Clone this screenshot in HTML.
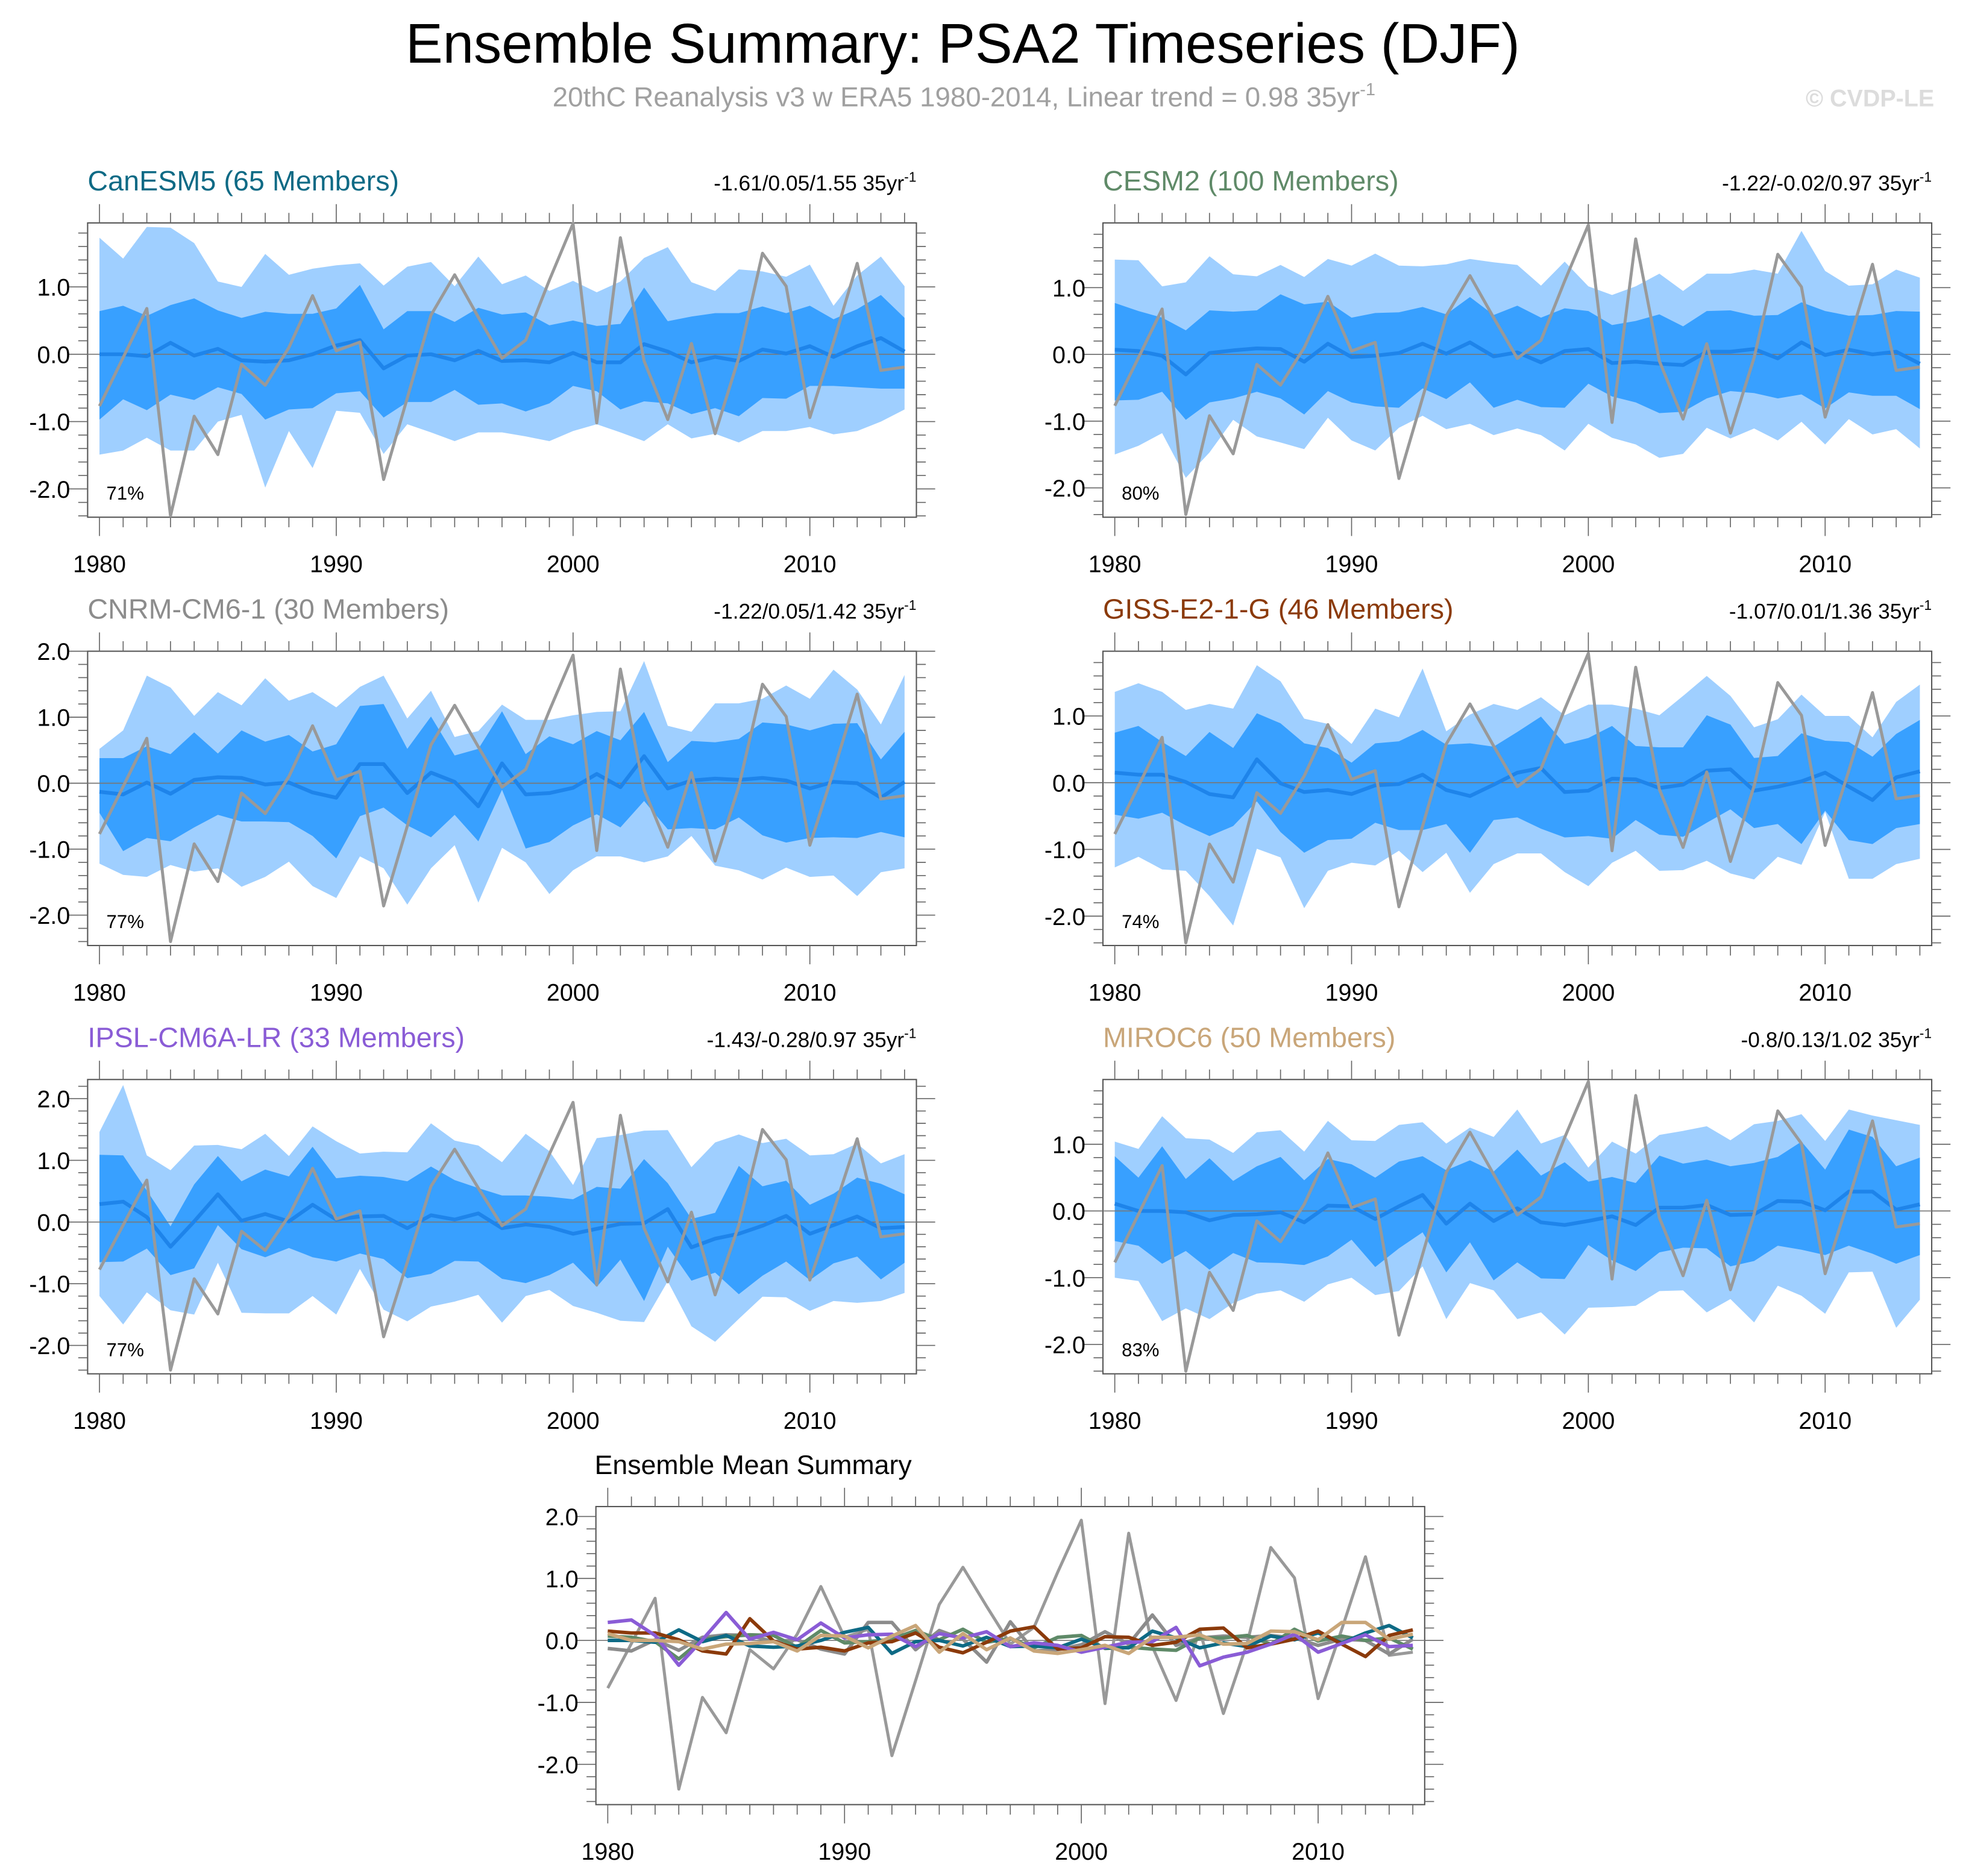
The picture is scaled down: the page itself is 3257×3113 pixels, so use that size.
<!DOCTYPE html>
<html><head><meta charset="utf-8">
<style>
html,body{margin:0;padding:0;background:#fff;}
svg{display:block;font-family:"Liberation Sans",sans-serif;}
</style></head>
<body>
<svg id="chart" width="3257" height="3113" viewBox="0 0 1568 1498" preserveAspectRatio="none" xmlns="http://www.w3.org/2000/svg">
<rect x="0" y="0" width="1568" height="1498" fill="#fff"/>
<text x="769" y="50" font-size="44.5" text-anchor="middle" fill="#000">Ensemble Summary: PSA2 Timeseries (DJF)</text>
<text x="770" y="85" font-size="22" text-anchor="middle" fill="#a0a0a0">20thC Reanalysis v3 w ERA5 1980-2014, Linear trend = 0.98 35yr<tspan font-size="14" dy="-9">-1</tspan></text>
<text x="1545" y="85" font-size="19" font-weight="bold" text-anchor="end" fill="#dcdcdc">© CVDP-LE</text>
<g id="panels"></g>
</svg>
<script>
const years = [];
for (let y = 1980; y <= 2014; y++) years.push(y);

const obs = [-0.77,-0.05,0.68,-2.40,-0.92,-1.49,-0.15,-0.46,0.10,0.87,0.05,0.18,-1.86,-0.65,0.58,1.18,0.55,-0.06,0.21,1.10,1.94,-1.02,1.73,-0.10,-0.97,0.16,-1.18,-0.05,1.50,1.01,-0.94,0.18,1.35,-0.24,-0.19];

// CanESM5
const canMean = [0,0,-0.03,0.17,-0.02,0.08,-0.09,-0.11,-0.09,0.0,0.13,0.21,-0.21,-0.02,0.0,-0.09,0.05,-0.1,-0.09,-0.12,0.02,-0.12,-0.12,0.15,0.04,-0.12,-0.04,-0.1,0.07,0.01,0.12,-0.04,0.12,0.24,0.04];
const canDarkHi = [0.64,0.72,0.57,0.73,0.83,0.65,0.54,0.63,0.6,0.6,0.68,1.03,0.37,0.64,0.64,0.48,0.69,0.59,0.62,0.43,0.5,0.42,0.45,0.99,0.49,0.56,0.61,0.61,0.71,0.61,0.72,0.52,0.67,0.88,0.54];
const canDarkLo = [-0.97,-0.67,-0.83,-0.6,-0.68,-0.49,-0.59,-0.97,-0.82,-0.8,-0.58,-0.55,-0.94,-0.71,-0.71,-0.53,-0.75,-0.73,-0.85,-0.73,-0.47,-0.55,-0.82,-0.7,-0.73,-0.89,-0.8,-0.92,-0.65,-0.66,-0.47,-0.47,-0.49,-0.51,-0.51];
const canLightHi = [1.73,1.42,1.89,1.88,1.65,1.08,1.0,1.49,1.18,1.27,1.32,1.35,1.02,1.3,1.37,1.01,1.45,1.04,1.17,0.94,1.09,0.92,1.08,1.43,1.59,1.07,0.94,1.26,1.23,1.15,1.33,0.72,1.17,1.45,1.01];
const canLightLo = [-1.49,-1.43,-1.24,-1.43,-1.43,-1.0,-0.9,-1.98,-1.14,-1.69,-0.84,-0.87,-1.48,-1.04,-1.16,-1.29,-1.16,-1.16,-1.22,-1.29,-1.14,-1.04,-1.16,-1.29,-1.04,-1.25,-1.18,-1.31,-1.14,-1.14,-1.08,-1.19,-1.14,-1.0,-0.82];

// CESM2
const cesmMean = [0.07,0.05,-0.02,-0.3,0.02,0.06,0.09,0.08,-0.11,0.16,-0.04,-0.02,0.02,0.16,0.01,0.18,-0.03,0.03,-0.12,0.05,0.08,-0.13,-0.11,-0.14,-0.16,0.04,0.04,0.08,-0.06,0.18,-0.01,0.07,0.0,0.04,-0.14];
const cesmDarkHi = [0.77,0.65,0.55,0.36,0.66,0.64,0.66,0.9,0.75,0.79,0.55,0.62,0.63,0.71,0.6,0.86,0.59,0.73,0.55,0.69,0.65,0.44,0.5,0.6,0.42,0.65,0.66,0.58,0.59,0.78,0.65,0.58,0.59,0.65,0.64];
const cesmDarkLo = [-0.69,-0.68,-0.56,-0.98,-0.72,-0.66,-0.56,-0.66,-0.9,-0.55,-0.72,-0.78,-0.8,-0.51,-0.67,-0.42,-0.8,-0.68,-0.79,-0.8,-0.44,-0.63,-0.72,-0.88,-0.86,-0.66,-0.55,-0.58,-0.66,-0.6,-0.81,-0.57,-0.62,-0.62,-0.82];
const cesmLightHi = [1.42,1.41,1.02,1.08,1.47,1.2,1.17,1.34,1.16,1.43,1.33,1.51,1.33,1.32,1.35,1.43,1.38,1.34,1.03,1.39,1.02,0.89,1.02,1.21,0.95,1.21,1.21,1.27,1.21,1.85,1.25,1.03,1.05,1.27,1.15];
const cesmLightLo = [-1.5,-1.37,-1.18,-1.85,-1.47,-0.98,-1.23,-1.32,-1.42,-0.95,-1.29,-1.44,-1.1,-0.92,-1.12,-1.04,-1.21,-1.11,-1.21,-1.44,-1.04,-1.25,-1.35,-1.55,-1.49,-1.1,-1.26,-1.11,-1.29,-1.01,-1.35,-0.97,-1.2,-1.12,-1.41];

// CNRM-CM6-1
const cnrmMean = [-0.13,-0.17,0.01,-0.16,0.05,0.09,0.08,-0.02,0.01,-0.14,-0.22,0.29,0.29,-0.15,0.16,0.02,-0.35,0.30,-0.17,-0.15,-0.07,0.14,-0.06,0.41,-0.08,0.04,0.07,0.05,0.08,0.04,-0.08,0.02,0.0,-0.22,0.02];
const cnrmDarkHi = [0.38,0.38,0.56,0.44,0.77,0.45,0.80,0.63,0.73,0.48,0.59,1.17,1.20,0.52,1.01,0.42,0.52,1.09,0.44,0.71,0.59,0.79,0.65,1.08,0.32,0.64,0.62,0.67,0.92,0.89,0.80,0.90,0.91,0.36,0.78];
const cnrmDarkLo = [-0.45,-1.03,-0.83,-0.88,-0.67,-0.48,-0.58,-0.58,-0.59,-0.80,-1.14,-0.50,-0.37,-0.64,-0.82,-0.48,-0.88,-0.10,-0.99,-0.89,-0.64,-0.47,-0.67,-0.27,-0.70,-0.68,-0.70,-0.52,-0.79,-0.90,-0.83,-0.82,-0.83,-0.74,-0.82];
const cnrmLightHi = [0.52,0.80,1.63,1.45,1.02,1.38,1.18,1.59,1.25,1.38,1.15,1.46,1.63,0.98,1.40,0.70,0.79,1.19,0.96,0.96,1.03,1.08,1.09,1.85,0.87,0.78,1.21,1.21,1.28,1.48,1.28,1.72,1.42,0.89,1.64];
const cnrmLightLo = [-1.22,-1.39,-1.42,-1.24,-1.34,-1.29,-1.57,-1.42,-1.19,-1.56,-1.74,-1.11,-1.29,-1.84,-1.29,-0.94,-1.81,-0.98,-1.20,-1.68,-1.32,-1.11,-1.11,-1.20,-1.11,-0.80,-1.25,-1.32,-1.46,-1.28,-1.42,-1.40,-1.71,-1.35,-1.29];

// GISS-E2-1-G
const gissMean = [0.15,0.12,0.12,0.01,-0.17,-0.22,0.35,-0.01,-0.14,-0.11,-0.17,-0.04,-0.02,0.12,-0.11,-0.2,-0.03,0.15,0.22,-0.14,-0.12,0.06,0.05,-0.08,-0.03,0.18,0.2,-0.12,-0.06,0.02,0.15,-0.06,-0.26,0.08,0.17];
const gissDarkHi = [0.75,0.85,0.61,0.40,0.76,0.52,1.04,0.89,0.59,0.52,0.30,0.59,0.62,0.79,0.57,0.59,0.54,0.76,0.99,0.58,0.67,0.85,0.55,0.53,0.53,1.01,0.87,0.37,0.40,0.74,0.63,0.61,0.39,0.73,0.94];
const gissDarkLo = [-0.48,-0.54,-0.45,-0.64,-0.80,-0.65,-0.28,-0.74,-1.05,-0.86,-0.84,-0.60,-0.71,-0.71,-0.62,-1.05,-0.56,-0.52,-0.69,-0.82,-0.80,-0.84,-0.56,-0.78,-0.81,-0.60,-0.40,-0.68,-0.62,-0.92,-0.42,-0.86,-0.92,-0.68,-0.62];
const gissLightHi = [1.36,1.49,1.36,1.09,1.18,1.11,1.76,1.52,0.96,0.88,0.58,1.11,0.98,1.71,0.77,1.02,1.18,1.09,1.28,1.01,1.17,1.17,1.11,1.01,1.30,1.60,1.30,0.83,0.95,1.32,1.00,1.00,0.68,1.21,1.47];
const gissLightLo = [-1.27,-1.11,-1.30,-1.32,-1.70,-2.14,-0.99,-1.12,-1.88,-1.32,-1.20,-1.24,-1.02,-1.34,-1.05,-1.65,-1.22,-1.06,-1.06,-1.34,-1.55,-1.20,-1.02,-1.32,-1.31,-1.17,-1.36,-1.45,-1.11,-1.23,-0.44,-1.44,-1.44,-1.22,-1.14];

// IPSL-CM6A-LR
const ipslMean = [0.29,0.33,0.08,-0.40,0.01,0.45,0.02,0.13,0.01,0.28,0.04,0.09,0.10,-0.10,0.11,0.04,0.14,-0.10,-0.04,-0.08,-0.19,-0.11,-0.03,-0.02,0.21,-0.41,-0.27,-0.19,-0.06,0.10,-0.19,-0.05,0.09,-0.10,-0.08];
const ipslDarkHi = [1.09,1.08,0.51,-0.07,0.61,1.07,0.66,0.85,0.74,1.22,0.71,0.75,0.73,0.66,0.90,0.68,0.55,0.43,0.43,0.41,0.37,0.57,0.54,1.02,0.63,0.05,0.15,0.91,0.58,0.67,0.28,0.46,0.72,0.62,0.45];
const ipslDarkLo = [-0.65,-0.64,-0.43,-0.86,-0.75,-0.05,-0.44,-0.57,-0.42,-0.57,-0.64,-0.51,-0.60,-0.91,-0.84,-0.63,-0.64,-0.92,-0.99,-0.86,-0.66,-1.05,-0.61,-1.28,-0.40,-0.95,-0.82,-1.17,-0.87,-0.64,-0.94,-0.67,-0.56,-0.93,-0.66];
const ipslLightHi = [1.46,2.22,1.08,0.84,1.24,1.25,1.18,1.43,1.07,1.55,1.31,1.11,1.14,1.13,1.60,1.32,1.24,0.97,1.43,1.15,0.60,1.36,1.41,1.48,1.49,0.89,1.29,1.42,1.28,1.35,1.08,1.10,1.27,0.95,1.10];
const ipslLightLo = [-1.20,-1.66,-1.14,-1.43,-1.50,-0.66,-1.47,-1.48,-1.48,-1.20,-1.50,-0.76,-1.42,-1.61,-1.37,-1.29,-1.18,-1.63,-1.20,-1.10,-1.36,-1.47,-1.60,-1.62,-0.96,-1.69,-1.94,-1.57,-1.21,-1.22,-1.44,-1.28,-1.31,-1.28,-1.15];

// MIROC6
const mirocMean = [0.11,0,0,-0.02,-0.14,-0.06,-0.05,-0.02,-0.17,0.08,0.07,-0.12,0.07,0.24,-0.19,0.11,-0.15,0.04,-0.17,-0.21,-0.15,-0.08,-0.21,0.05,0.05,0.09,-0.06,-0.05,0.15,0.14,0.01,0.29,0.29,0.02,0.10];
const mirocDarkHi = [0.82,0.50,0.97,0.48,0.79,0.45,0.67,0.81,0.46,0.78,0.70,0.50,0.74,0.82,0.61,0.76,0.59,0.92,0.53,0.73,0.44,0.51,0.42,0.83,0.71,0.77,0.67,0.72,0.81,1.04,0.62,1.22,1.11,0.67,0.80];
const mirocDarkLo = [-0.45,-0.52,-0.79,-0.60,-0.88,-0.63,-0.77,-0.78,-0.81,-0.68,-0.43,-0.84,-0.56,-0.32,-0.92,-0.47,-1.04,-0.77,-1.01,-1.02,-0.51,-0.74,-0.90,-0.62,-0.55,-0.56,-0.83,-0.75,-0.52,-0.58,-0.66,-0.52,-0.64,-0.79,-0.66];
const mirocLightHi = [1.04,0.93,1.42,1.09,1.07,0.87,1.18,1.21,0.89,1.35,1.06,1.05,1.29,1.33,1.01,1.25,1.11,1.52,1.01,1.14,0.65,1.04,0.86,1.14,1.20,1.27,1.06,1.30,1.35,1.45,1.05,1.52,1.43,1.36,1.29];
const mirocLightLo = [-1.00,-1.05,-1.65,-1.46,-1.62,-1.38,-1.24,-1.19,-1.36,-1.10,-1.00,-1.26,-1.20,-0.83,-1.62,-1.08,-1.19,-1.62,-1.52,-1.85,-1.45,-1.44,-1.42,-1.20,-1.19,-1.52,-1.32,-1.67,-1.12,-1.27,-1.54,-0.92,-0.91,-1.75,-1.33];

const modelNames = ["CanESM5 (65 Members)","CESM2 (100 Members)","CNRM-CM6-1 (30 Members)","GISS-E2-1-G (46 Members)","IPSL-CM6A-LR (33 Members)","MIROC6 (50 Members)"];
const statLabels = ["-1.61/0.05/1.55 35yr","-1.22/-0.02/0.97 35yr","-1.22/0.05/1.42 35yr","-1.07/0.01/1.36 35yr","-1.43/-0.28/0.97 35yr","-0.8/0.13/1.02 35yr"];
const pctLabels = ["71%","80%","77%","74%","77%","83%"];
const titleColors = ["#0e6a85","#5f8a68","#8c8c8c","#8b3a0a","#8a5cd6","#c9a679"];
const yRanges = [[-2.42,1.95],[-2.44,1.97],[-2.46,2.0],[-2.44,1.97],[-2.46,2.31],[-2.44,1.97]];
const meanSets = [canMean,cesmMean,cnrmMean,gissMean,ipslMean,mirocMean];
const bandSets = [
 [canLightLo,canLightHi,canDarkLo,canDarkHi],
 [cesmLightLo,cesmLightHi,cesmDarkLo,cesmDarkHi],
 [cnrmLightLo,cnrmLightHi,cnrmDarkLo,cnrmDarkHi],
 [gissLightLo,gissLightHi,gissDarkLo,gissDarkHi],
 [ipslLightLo,ipslLightHi,ipslDarkLo,ipslDarkHi],
 [mirocLightLo,mirocLightHi,mirocDarkLo,mirocDarkHi]];
const xTickLabels = ["1980","1990","2000","2010"];

const NS = "http://www.w3.org/2000/svg";
const root = document.getElementById("panels");
function mk(tag, attrs, parent) {
  const e = document.createElementNS(NS, tag);
  for (const k in attrs) e.setAttribute(k, attrs[k]);
  (parent || root).appendChild(e);
  return e;
}

function drawAxes(g, L, T, W, H, xs, ys, ymin, ymax) {
  const box = mk("rect", {x:L, y:T, width:W, height:H, fill:"none", stroke:"#555", "stroke-width":1}, g);
  
  
  for (let yr = 1980; yr <= 2014; yr++) {
    const major = yr % 10 === 0;
    const len = major ? 15 : 8;
    const x = xs(yr);
    mk("line", {x1:x, x2:x, y1:T, y2:T-len, stroke:"#666", "stroke-width":0.8}, g);
    mk("line", {x1:x, x2:x, y1:T+H, y2:T+H+len, stroke:"#666", "stroke-width":0.8}, g);
  }
  xTickLabels.forEach(lbl => {
    const t = mk("text", {x:xs(+lbl), y:T+H+44, "font-size":19, "text-anchor":"middle", fill:"#000"}, g);
    t.textContent = lbl;
    
    
  });
  const start = Math.ceil(ymin / 0.2 - 1e-6), end = Math.floor(ymax / 0.2 + 1e-6);
  for (let k = start; k <= end; k++) {
    const v = k * 0.2;
    const major = k % 5 === 0;
    const len = major ? 15 : 7.5;
    const y = ys(v);
    mk("line", {x1:L, x2:L-len, y1:y, y2:y, stroke:"#666", "stroke-width":0.8}, g);
    mk("line", {x1:L+W, x2:L+W+len, y1:y, y2:y, stroke:"#666", "stroke-width":0.8}, g);
    if (major) {
      const iv = Math.round(v);
      const t = mk("text", {x:L-14, y:y+7, "font-size":19, "text-anchor":"end", fill:"#000"}, g);
      t.textContent = iv.toFixed(1);
      
      
    }
  }
  mk("line", {x1:L, x2:L+W, y1:ys(0), y2:ys(0), stroke:"#777", "stroke-width":0.8}, g);
}

function linePath(vals, xs, ys) {
  return vals.map((v, i) => (i ? "L" : "M") + xs(years[i]).toFixed(2) + " " + ys(v).toFixed(2)).join(" ");
}
function bandPath(lo, hi, xs, ys) {
  let d = hi.map((v, i) => (i ? "L" : "M") + xs(years[i]).toFixed(2) + " " + ys(v).toFixed(2)).join(" ");
  for (let i = lo.length - 1; i >= 0; i--) d += " L" + xs(years[i]).toFixed(2) + " " + ys(lo[i]).toFixed(2);
  return d + " Z";
}

const colX = [70, 881], rowT = [178, 520, 862], W = 662, H = 235;
for (let p = 0; p < 6; p++) {
  const L = colX[p % 2], T = rowT[Math.floor(p / 2)];
  const [ymin, ymax] = yRanges[p];
  const xs = yr => L + (yr - 1979.5) / 35 * W;
  const ys = v => T + (ymax - v) / (ymax - ymin) * H;
  const g = mk("g", {});
  
  
  const [llo, lhi, dlo, dhi] = bandSets[p];
  const b1 = mk("path", {d:bandPath(llo, lhi, xs, ys), fill:"#9fcfff"}, g);
  
  
  const b2 = mk("path", {d:bandPath(dlo, dhi, xs, ys), fill:"#38a0ff"}, g);
  
  
  drawAxes(g, L, T, W, H, xs, ys, ymin, ymax);
  const m = mk("path", {d:linePath(meanSets[p], xs, ys), fill:"none", stroke:"#1e84ea", "stroke-width":3, "stroke-linejoin":"round"}, g);
  
  
  const o = mk("path", {d:linePath(obs, xs, ys), fill:"none", stroke:"#999", "stroke-width":2.4, "stroke-linejoin":"round"}, g);
  
  
  const tt = mk("text", {x:L, y:T-26, "font-size":22.5, fill:titleColors[p]}, g);
  tt.textContent = modelNames[p];
  
  
  const st = mk("text", {x:L+W, y:T-26, "font-size":17, "text-anchor":"end", fill:"#000"}, g);
  
  
  st.appendChild(document.createTextNode(statLabels[p]));
  const sup = mk("tspan", {"font-size":11, dy:-7}, st);
  sup.textContent = "-1";
  const pc = mk("text", {x:L+15, y:T+H-14, "font-size":15, fill:"#000"}, g);
  pc.textContent = pctLabels[p];
  
  
}

{
  const L = 476, T = 1203, W2 = 662, H2 = 238, ymin = -2.65, ymax = 2.16;
  const xs = yr => L + (yr - 1979.5) / 35 * W2;
  const ys = v => T + (ymax - v) / (ymax - ymin) * H2;
  const g = mk("g", {});
  
  
  drawAxes(g, L, T, W2, H2, xs, ys, ymin, ymax);
  const o = mk("path", {d:linePath(obs, xs, ys), fill:"none", stroke:"#999", "stroke-width":2.4, "stroke-linejoin":"round"}, g);
  
  
  const order = [2, 1, 0, 3, 4, 5];
  order.forEach(p => {
    const l = mk("path", {d:linePath(meanSets[p], xs, ys), fill:"none", stroke:titleColors[p], "stroke-width":2.8, "stroke-linejoin":"round"}, g);
    
    
  });
  const tt = mk("text", {x:475, y:1177, "font-size":21.5, fill:"#000"}, g);
  tt.textContent = "Ensemble Mean Summary";
  
  
}
</script>
</body></html>
